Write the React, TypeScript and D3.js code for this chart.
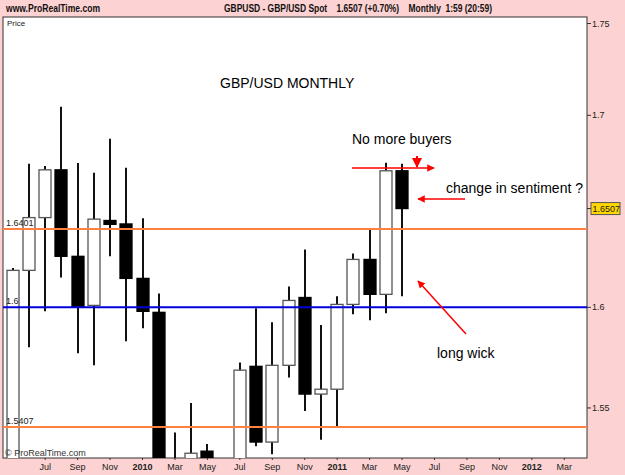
import React from "react";
import * as d3 from "d3";

// monthly GBPUSD candles, May 2009 .. May 2011
const months = ["2009-05","2009-06","2009-07","2009-08","2009-09","2009-10","2009-11","2009-12",
  "2010-01","2010-02","2010-03","2010-04","2010-05","2010-06","2010-07","2010-08","2010-09","2010-10","2010-11","2010-12",
  "2011-01","2011-02","2011-03","2011-04","2011-05"];
const opens =  [1.480,1.6188,1.646,1.671,1.626,1.601,1.6445,1.6427,1.6147,1.5975,1.522,1.518,1.529,1.452,1.495,1.5705,1.5334,1.571,1.605,1.5568,1.5592,1.6015,1.6244,1.6066,1.6705];
const highs =  [1.620,1.6742,1.673,1.7046,1.6746,1.6695,1.6875,1.6721,1.6456,1.607,1.538,1.5524,1.5324,1.5035,1.5724,1.5995,1.5925,1.6106,1.6295,1.5911,1.6056,1.6274,1.6398,1.6747,1.6742];
const lows =   [1.475,1.580,1.598,1.6152,1.577,1.571,1.626,1.583,1.5895,1.515,1.478,1.5025,1.423,1.4335,1.488,1.5314,1.5275,1.565,1.5485,1.5345,1.5407,1.5965,1.5935,1.597,1.6056];
const closes = [1.6188,1.646,1.671,1.626,1.6005,1.6452,1.6425,1.6147,1.598,1.5226,1.518,1.528,1.452,1.495,1.5686,1.5334,1.571,1.6035,1.5568,1.5592,1.6015,1.6244,1.6066,1.6705,1.6507];

const xLabels = ["Jul","Sep","Nov","2010","Mar","May","Jul","Sep","Nov","2011","Mar","May","Jul","Sep","Nov","2012","Mar"];
const xLabelIdx = [2,4,6,8,10,12,14,16,18,20,22,24,26,28,30,32,34];
const yTicks = [1.55, 1.6, 1.7, 1.75];
const lastPrice = 1.6507;
const levelsOrange = [1.6401, 1.5407];
const levelBlue = 1.6;

const W = 625, H = 475;
const L = 3, R = 587, T = 17, B = 458;

export default function App() {
  const x = d3.scaleLinear().domain([-0.6, 35.4]).range([L, R]);
  const y = d3.scaleLog().domain([1.5257, 1.7536]).range([B, T]);
  const bw = 12;
  const fmt = (v: number) => String(+v.toFixed(4));

  return (
    <svg width={W} height={H} style={{ position: "absolute", left: 0, top: 0, fontFamily: "Liberation Sans, Arial, sans-serif" }}>
      <defs>
        <clipPath id="plot"><rect x={L} y={T} width={R - L} height={B - T} /></clipPath>
      </defs>
      <rect width={W} height={H} fill="#fdd2d2" />
      {/* header */}
      <g fontWeight="bold" fontSize={11} fill="#111">
        <text x={6} y={12} textLength={94} lengthAdjust="spacingAndGlyphs">www.ProRealTime.com</text>
        <text x={224} y={12} textLength={268} lengthAdjust="spacingAndGlyphs" style={{ whiteSpace: "pre" }}>
          {"GBPUSD - GBP/USD Spot    1.6507 (+0.70%)    Monthly  1:59 (20:59)"}
        </text>
      </g>
      <rect x={L} y={T} width={R - L} height={B - T} fill="#fff" stroke="#333" strokeWidth={1} />
      <text x={7} y={26} fontSize={8} fill="#222">Price</text>

      <g clipPath="url(#plot)">
        {months.map((m, i) => {
          const up = closes[i] >= opens[i];
          const top = y(Math.max(opens[i], closes[i]));
          const bot = y(Math.min(opens[i], closes[i]));
          const cx = Math.round(x(i));
          return (
            <g key={m}>
              <line x1={cx} x2={cx} y1={y(highs[i])} y2={y(lows[i])} stroke="#111" strokeWidth={2} />
              <rect x={cx - bw / 2} y={top} width={bw} height={Math.max(bot - top, 2)}
                fill={up ? "#fff" : "#000"} stroke={up ? "#555" : "#000"} strokeWidth={1.3} />
            </g>
          );
        })}
        {levelsOrange.map(v => (
          <line key={v} x1={L} x2={R} y1={y(v)} y2={y(v)} stroke="#ff8040" strokeWidth={2} />
        ))}
        <line x1={L} x2={R} y1={y(levelBlue)} y2={y(levelBlue)} stroke="#0000dd" strokeWidth={2} />
      </g>
      <g fontSize={9} fill="#222">
        {levelsOrange.map(v => (
          <text key={v} x={6} y={y(v) - 3}>{fmt(v)}</text>
        ))}
        <text x={6} y={y(levelBlue) - 3}>{fmt(levelBlue)}</text>
        <text x={5} y={456} fill="#333">© ProRealTime.com</text>
      </g>

      {/* right axis */}
      <g fontSize={9} fill="#222">
        {yTicks.map(v => (
          <g key={v}>
            <line x1={R} x2={R + 4} y1={y(v)} y2={y(v)} stroke="#333" />
            <text x={R + 5} y={y(v) + 3}>{fmt(v)}</text>
          </g>
        ))}
        <line x1={R} x2={R + 4} y1={y(lastPrice)} y2={y(lastPrice)} stroke="#333" />
        <rect x={R + 4} y={y(lastPrice) - 6} width={29} height={12} fill="#ffd700" stroke="#555" />
        <text x={R + 5.5} y={y(lastPrice) + 3.5}>{fmt(lastPrice)}</text>
      </g>

      {/* bottom axis */}
      <g fontSize={9} fill="#222" textAnchor="middle">
        {xLabels.map((t, k) => (
          <g key={k}>
            <line x1={x(xLabelIdx[k])} x2={x(xLabelIdx[k])} y1={B} y2={B + 2} stroke="#333" />
            <text x={x(xLabelIdx[k])} y={470} fontWeight={t.length === 4 ? "bold" : "normal"}>{t}</text>
          </g>
        ))}
      </g>

      {/* annotations */}
      <defs>
        <marker id="ah" viewBox="0 0 10 10" refX={9} refY={5} markerWidth={5} markerHeight={5} orient="auto">
          <path d="M0,0L10,5L0,10z" fill="#f00" />
        </marker>
      </defs>
      <g fontSize={14} fill="#000">
        <text x={220} y={88}>GBP/USD MONTHLY</text>
        <text x={352} y={144}>No more buyers</text>
        <text x={446} y={193}>change in sentiment ?</text>
        <text x={437} y={358}>long wick</text>
      </g>
      <g stroke="#f00" strokeWidth={1.5} markerEnd="url(#ah)">
        <line x1={352} y1={168} x2={434} y2={168} />
        <line x1={417} y1={156} x2={417} y2={167} strokeWidth={2} />
        <line x1={465} y1={199} x2={418} y2={199} />
        <line x1={466} y1={334} x2={418} y2={281} />
      </g>
    </svg>
  );
}
